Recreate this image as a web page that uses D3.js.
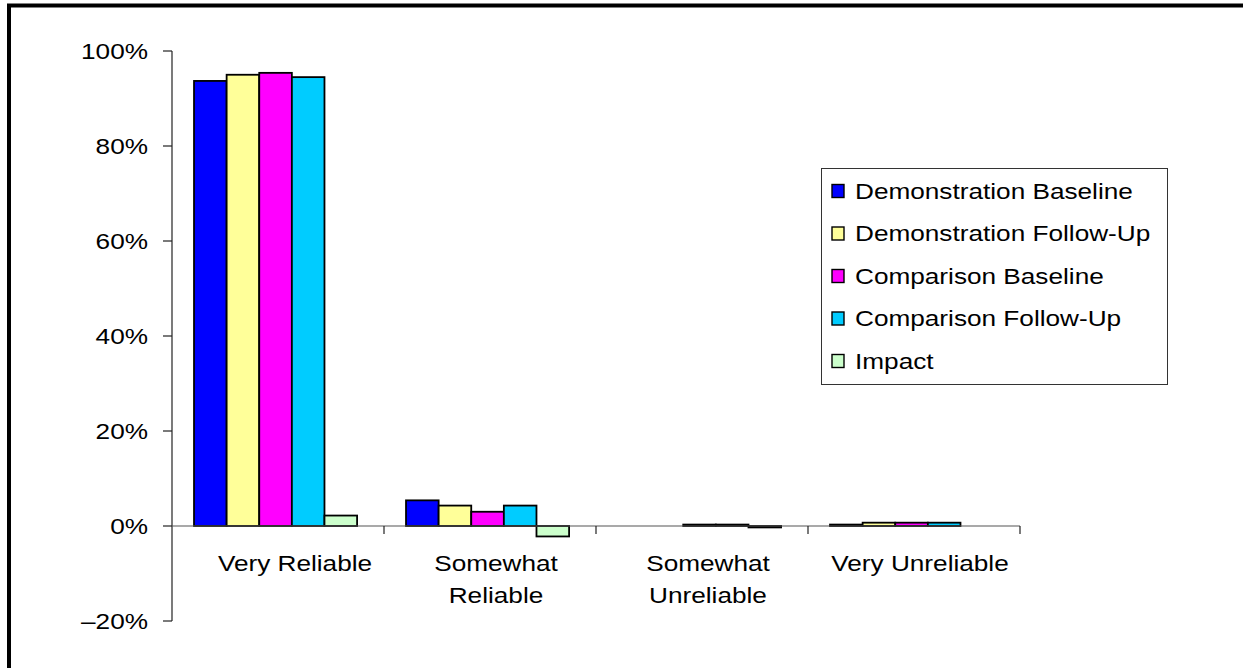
<!DOCTYPE html>
<html>
<head>
<meta charset="utf-8">
<script src="https://cdn.jsdelivr.net/npm/d3@7/dist/d3.min.js"></script>
<style>
  html, body { margin: 0; padding: 0; background: #fff; }
  svg { display: block; }
  text { font-family: "Liberation Sans", Arial, sans-serif; fill: #000; }
</style>
</head>
<body>
<svg id="chart" width="1243" height="668"></svg>
<script>
// Response categories (x axis), each may wrap onto two lines
const categories = ["Very Reliable", "Somewhat Reliable", "Somewhat Unreliable", "Very Unreliable"];
const categoryLines = [["Very Reliable"], ["Somewhat", "Reliable"], ["Somewhat", "Unreliable"], ["Very Unreliable"]];

// Series (percent of respondents)
const seriesNames = ["Demonstration Baseline", "Demonstration Follow-Up", "Comparison Baseline", "Comparison Follow-Up", "Impact"];
const demoBaseline   = [93.7, 5.4, 0.0, 0.3];
const demoFollowUp   = [95.0, 4.3, 0.0, 0.7];
const compBaseline   = [95.4, 3.0, 0.3, 0.7];
const compFollowUp   = [94.5, 4.3, 0.3, 0.7];
const impact         = [2.2, -2.2, -0.3, 0.0];
const seriesColors   = ["#0000FF", "#FFFF99", "#FF00FF", "#00CCFF", "#CCFFCC"];

// Y axis ticks
const yTicks = [-20, 0, 20, 40, 60, 80, 100];
const yTickLabels = ["\u201320%", "0%", "20%", "40%", "60%", "80%", "100%"];

const seriesValues = [demoBaseline, demoFollowUp, compBaseline, compFollowUp, impact];

const svg = d3.select("#chart");
const SX = 1.19; // horizontal stretch of the lettering

// outer frame
svg.append("rect")
  .attr("x", 9).attr("y", 5.5)
  .attr("width", 1260).attr("height", 700)
  .attr("fill", "none").attr("stroke", "#000").attr("stroke-width", 4);

const plotLeft = 172, plotRight = 1020, plotTop = 51, plotBottom = 621;

const y = d3.scaleLinear().domain([-20, 100]).range([plotBottom, plotTop]);
const x0 = d3.scaleBand().domain(categories).range([plotLeft, plotRight]).padding(0);
const x1 = d3.scaleBand().domain(seriesNames).range([0, x0.bandwidth()])
  .paddingInner(0).paddingOuter(0.75).align(0.45);

function label(g, x, yy, txt, anchor) {
  g.append("text")
    .attr("transform", `translate(${x},${yy}) scale(${SX},1)`)
    .attr("text-anchor", anchor || "middle")
    .attr("dominant-baseline", "central")
    .style("font-size", "22px")
    .text(txt);
}

// y axis
const yAxis = svg.append("g");
yAxis.append("line")
  .attr("x1", plotLeft).attr("x2", plotLeft).attr("y1", plotTop).attr("y2", plotBottom)
  .attr("stroke", "#222").attr("stroke-width", 1.2);
yTicks.forEach((t, i) => {
  yAxis.append("line")
    .attr("x1", plotLeft - 9).attr("x2", plotLeft).attr("y1", y(t)).attr("y2", y(t))
    .attr("stroke", "#222").attr("stroke-width", 1.2);
  label(yAxis, 148, y(t), yTickLabels[i], "end");
});

// bars
const bars = svg.append("g");
categories.forEach((c, ci) => {
  seriesNames.forEach((s, si) => {
    const v = seriesValues[si][ci];
    if (v === 0) return;
    bars.append("rect")
      .attr("x", x0(c) + x1(s))
      .attr("width", x1.bandwidth())
      .attr("y", y(Math.max(0, v)))
      .attr("height", Math.abs(y(v) - y(0)))
      .attr("fill", seriesColors[si])
      .attr("stroke", "#000")
      .attr("stroke-width", 1.8);
  });
});

// x axis
const xAxis = svg.append("g");
xAxis.append("line")
  .attr("x1", plotLeft).attr("x2", plotRight).attr("y1", y(0)).attr("y2", y(0))
  .attr("stroke", "#555").attr("stroke-width", 1.2);
categories.forEach((c, ci) => {
  xAxis.append("line")
    .attr("x1", x0(c) + x0.bandwidth()).attr("x2", x0(c) + x0.bandwidth())
    .attr("y1", y(0)).attr("y2", y(0) + 8)
    .attr("stroke", "#222").attr("stroke-width", 1.2);
  // single-line labels of the first slot sit a little right of centre
  const shift = ci === 0 ? 17 : 6;
  const cx = x0(c) + x0.bandwidth() / 2 + shift;
  categoryLines[ci].forEach((ln, li) => {
    label(xAxis, cx, 563 + li * 32, ln, "middle");
  });
});

// legend
const legend = svg.append("g");
legend.append("rect")
  .attr("x", 821.5).attr("y", 168.5).attr("width", 346).attr("height", 216)
  .attr("fill", "#fff").attr("stroke", "#333").attr("stroke-width", 1);
seriesNames.forEach((s, i) => {
  const cy = 191 + i * 42.5;
  legend.append("rect")
    .attr("x", 832).attr("y", cy - 6.5).attr("width", 12).attr("height", 13)
    .attr("fill", seriesColors[i]).attr("stroke", "#000").attr("stroke-width", 1.4);
  label(legend, 855, cy, s, "start");
});
</script>
</body>
</html>
